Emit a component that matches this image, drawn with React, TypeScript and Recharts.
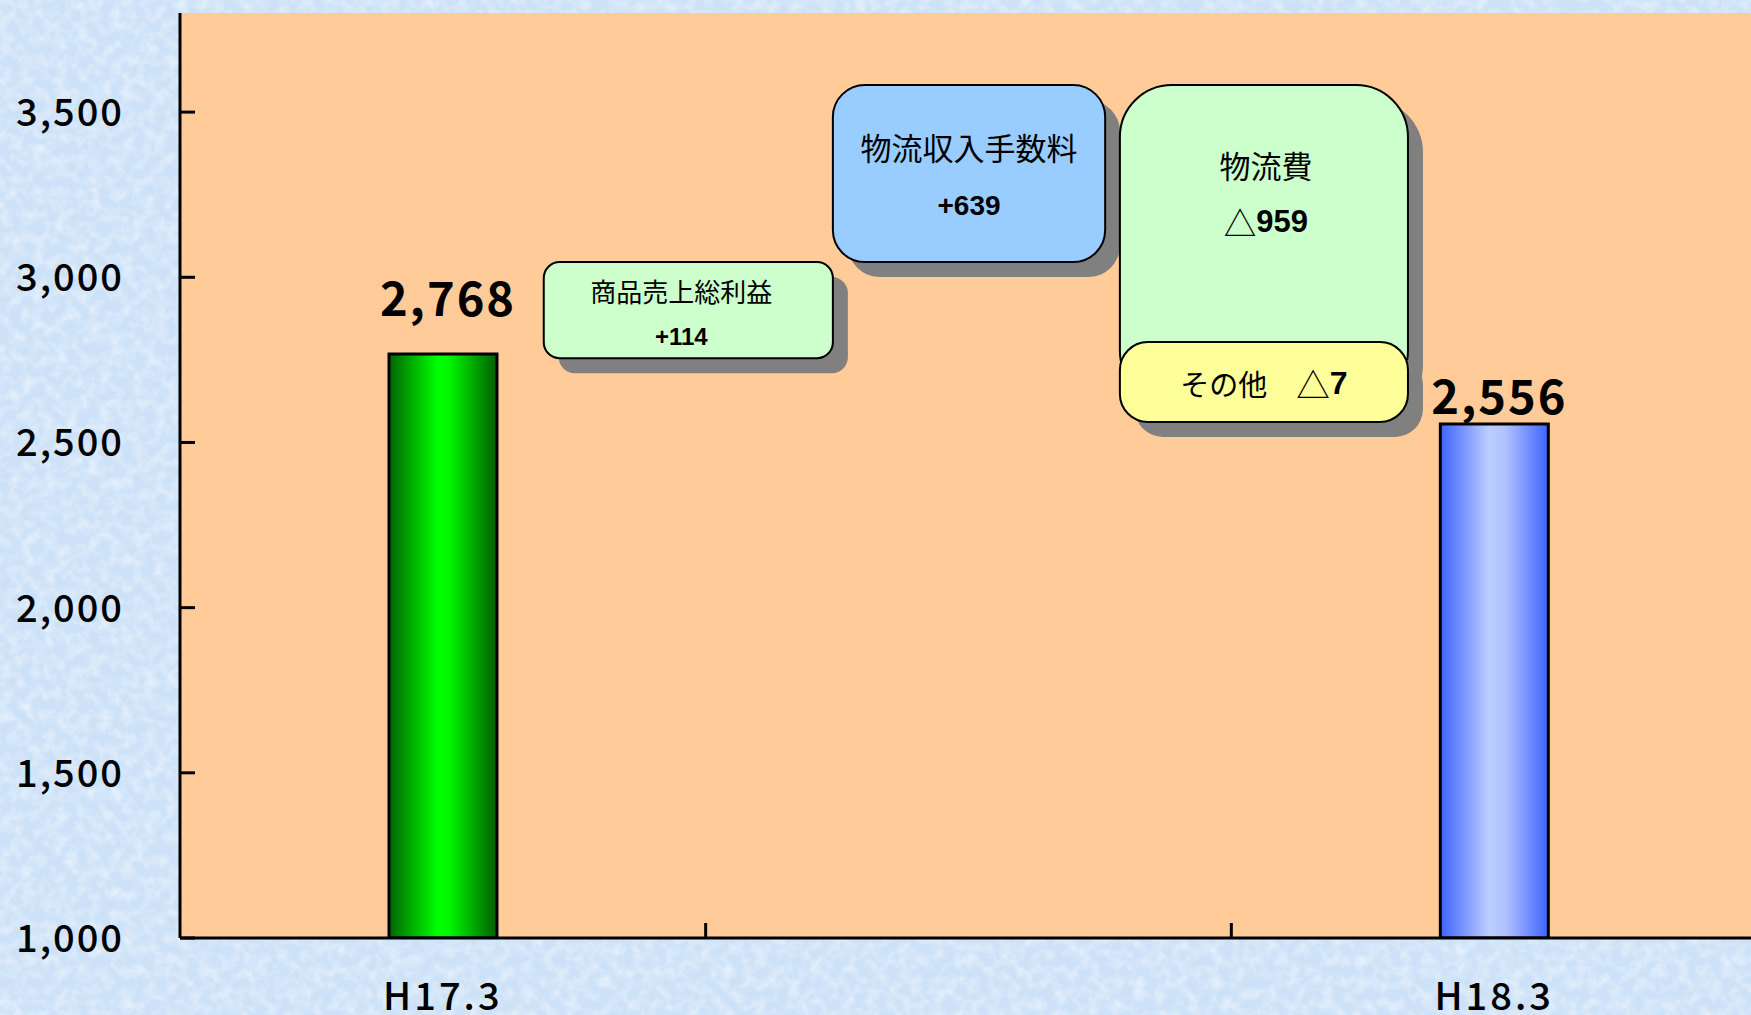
import { Bar, CartesianGrid, Cell, ComposedChart, LabelList, ReferenceArea, XAxis, YAxis } from "recharts"

const categories = ["H17.3", "", "H18.3"]
const totals: (number | null)[] = [2768, null, 2556]
const yTicks = [1000, 1500, 2000, 2500, 3000, 3500]

// bridge boxes between the two totals (annotations, extents in axis units)
const boxTitles = ["商品売上総利益", "物流収入手数料", "物流費", "その他"]
const boxDeltas = ["+114", "+639", "△959", "△7"]
const boxLow = [2755, 3046, 2620, 2562]
const boxHigh = [3046, 3582, 3582, 2804]
const boxStart = [0.692, 1.242, 1.788, 1.788]
const boxEnd = [1.242, 1.76, 2.336, 2.336]

// pos = middle of each category slot, so the number axis lines up with the bands
const rows = categories.map((name, i) => ({ name, total: totals[i], pos: i + 0.5 }))

const JP = "'Noto Sans CJK JP', 'Noto Sans', sans-serif"
const ARIAL = "'Liberation Sans', Arial, sans-serif"

const barFills = ["url(#gradGreen)", "none", "url(#gradBlue)"]

const boxStyles = [
  { fill: "#ccffcc", r: 16, titleSize: 26, deltaSize: 24, titleY: 28, deltaY: 74, dx: -7 },
  { fill: "#99ccff", r: 32, titleSize: 31, deltaSize: 28, titleY: 61, deltaY: 120, dx: 0 },
  { fill: "#ccffcc", r: 52, titleSize: 31, deltaSize: 31, titleY: 79, deltaY: 136, dx: 2 },
  { fill: "#ffff99", r: 28, titleSize: 29, deltaSize: 32, titleY: 41, deltaY: 41, dx: 0, inline: true },
]

function Delta({ text, size }: { text: string; size: number }) {
  const tri = text.startsWith("△")
  const rest = tri ? text.slice(1) : text
  return (
    <>
      {tri && (
        <tspan fontFamily={JP} fontWeight={400} fontSize={size * 1.05}>
          △
        </tspan>
      )}
      <tspan fontFamily={ARIAL} fontWeight={700} fontSize={size}>
        {rest}
      </tspan>
    </>
  )
}

function BridgeBox(props: any) {
  const { x, y, width, height, index } = props
  const s = boxStyles[index]
  const cx = x + width / 2 + s.dx
  return (
    <g>
      <rect x={x + 15} y={y + 15} width={width} height={height} rx={s.r} fill="#808080" />
      <rect x={x} y={y} width={width} height={height} rx={s.r} fill={s.fill} stroke="#000" strokeWidth={2} />
      {s.inline ? (
        <text x={cx} y={y + s.titleY} textAnchor="middle" dominantBaseline="central" fill="#000">
          <tspan fontFamily={JP} fontSize={s.titleSize}>
            {boxTitles[index] + "\u3000"}
          </tspan>
          <Delta text={boxDeltas[index]} size={s.deltaSize} />
        </text>
      ) : (
        <>
          <text
            x={cx}
            y={y + s.titleY}
            textAnchor="middle"
            dominantBaseline="central"
            fontFamily={JP}
            fontSize={s.titleSize}
            fill="#000"
          >
            {boxTitles[index]}
          </text>
          <text x={cx} y={y + s.deltaY} textAnchor="middle" dominantBaseline="central" fill="#000">
            <Delta text={boxDeltas[index]} size={s.deltaSize} />
          </text>
        </>
      )}
    </g>
  )
}

function ValueTick({ x, y, payload }: any) {
  return (
    <text
      x={x + 2}
      y={y + 14}
      textAnchor="end"
      fontFamily={JP}
      fontWeight={500}
      fontSize={38}
      letterSpacing={2}
      fill="#000"
    >
      {Number(payload.value).toLocaleString("en-US")}
    </text>
  )
}

function CategoryTick({ x, y, payload, index, visibleTicksCount }: any) {
  const half = payload?.offset ?? 0
  return (
    <g>
      <text
        x={x}
        y={y + 72}
        textAnchor="middle"
        fontFamily={JP}
        fontWeight={500}
        fontSize={38}
        letterSpacing={3}
        fill="#000"
      >
        {payload.value}
      </text>
      {index < visibleTicksCount - 1 && (
        <line x1={x + half} x2={x + half} y1={y} y2={y - 15} stroke="#000" strokeWidth={3} />
      )}
    </g>
  )
}

function TotalLabel({ x, y, width, value, index }: any) {
  if (value == null) return null
  const lift = index === 0 ? 38 : 10
  return (
    <text
      x={x + width / 2 + 5}
      y={y - lift}
      textAnchor="middle"
      fontFamily={JP}
      fontWeight={700}
      fontSize={47}
      letterSpacing={2}
      fill="#000"
    >
      {Number(value).toLocaleString("en-US")}
    </text>
  )
}

export default function App() {
  return (
    <div style={{ position: "fixed", left: 0, top: 0, width: 1751, height: 1015, overflow: "hidden" }}>
      <svg width={1751} height={1015} style={{ position: "absolute", left: 0, top: 0 }}>
        <defs>
          <filter id="marble" x="0" y="0" width="100%" height="100%">
            <feTurbulence type="fractalNoise" baseFrequency="0.09" numOctaves={3} seed={7} />
            <feColorMatrix type="matrix" values="0 0 0 0 1  0 0 0 0 1  0 0 0 0 1  1.8 0 0 0 -0.7" />
          </filter>
        </defs>
        <rect width="100%" height="100%" fill="#cde2f8" />
        <rect width="100%" height="100%" filter="url(#marble)" opacity={0.55} />
      </svg>
      <ComposedChart
        width={1757}
        height={1015}
        data={rows}
        margin={{ top: 13, right: 0, bottom: 0, left: 0 }}
        style={{ position: "absolute", left: 0, top: 0 }}
      >
        <defs>
          <linearGradient id="gradGreen" x1="0" y1="0" x2="1" y2="0">
            <stop offset="0" stopColor="#006400" />
            <stop offset="0.45" stopColor="#00ff00" />
            <stop offset="0.55" stopColor="#00f800" />
            <stop offset="1" stopColor="#005f00" />
          </linearGradient>
          <linearGradient id="gradBlue" x1="0" y1="0" x2="1" y2="0">
            <stop offset="0" stopColor="#3d63ff" />
            <stop offset="0.45" stopColor="#bccdff" />
            <stop offset="0.6" stopColor="#b0c2ff" />
            <stop offset="1" stopColor="#3d63ff" />
          </linearGradient>
        </defs>
        <CartesianGrid xAxisId="cat" fill="#ffcc99" fillOpacity={1} horizontal={false} vertical={false} />
        <XAxis
          xAxisId="cat"
          dataKey="name"
          scale="band"
          height={77}
          interval={0}
          tickLine={false}
          tickSize={0}
          tickMargin={0}
          axisLine={{ stroke: "#000", strokeWidth: 3 }}
          tick={<CategoryTick />}
        />
        <XAxis xAxisId="pos" dataKey="pos" type="number" domain={[0, 3]} allowDataOverflow hide />
        <YAxis
          type="number"
          domain={[1000, 3800]}
          ticks={yTicks}
          allowDataOverflow
          width={180}
          tickSize={-15}
          tickMargin={73}
          axisLine={{ stroke: "#000", strokeWidth: 3 }}
          tickLine={{ stroke: "#000", strokeWidth: 3 }}
          tick={<ValueTick />}
        />
        <Bar xAxisId="cat" dataKey="total" barSize={108} stroke="#000" strokeWidth={3} isAnimationActive={false}>
          {rows.map((_, i) => (
            <Cell key={i} fill={barFills[i]} />
          ))}
          <LabelList dataKey="total" content={<TotalLabel />} />
        </Bar>
        {boxTitles.map((_, i) => (
          <ReferenceArea
            key={i}
            xAxisId="pos"
            x1={boxStart[i]}
            x2={boxEnd[i]}
            y1={boxLow[i]}
            y2={boxHigh[i]}
            shape={(p: any) => <BridgeBox {...p} index={i} />}
          />
        ))}
      </ComposedChart>
    </div>
  )
}
